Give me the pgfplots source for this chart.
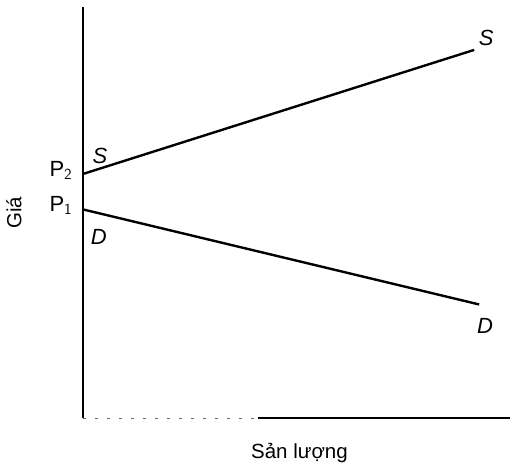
\documentclass[border=0pt]{standalone}
\usepackage{pgfplots}
\pgfplotsset{compat=1.18}
\usepackage{fontspec}
\setmainfont{Liberation Sans}
\begin{document}
\begin{tikzpicture}
\begin{axis}[
  scale only axis, width=511pt, height=466pt,
  xmin=0, xmax=511, ymin=0, ymax=466,
  hide axis, clip=false,
]
% frame that fixes the picture size
\addplot[draw=none, forget plot] coordinates {(0,0) (511,466)};
% axes
\addplot[black, line width=1.8pt] coordinates {(83,459) (83,47)};
\addplot[black, line width=1.8pt] coordinates {(258,47) (511,47)};
\addplot[black!60, line width=1.2pt, dash pattern=on 3pt off 9pt] coordinates {(83,47) (258,47)};
% supply and demand
\addplot[black, line width=2.4pt] coordinates {(84,292) (475,416)};
\addplot[black, line width=2.4pt] coordinates {(84,256) (480,161)};
% labels
\node[font=\fontsize{22}{24}\selectfont\itshape] at (axis cs:487,428) {S};
\node[font=\fontsize{22}{24}\selectfont\itshape] at (axis cs:100,310) {S};
\node[font=\fontsize{22}{24}\selectfont\itshape] at (axis cs:99,229) {D};
\node[font=\fontsize{22}{24}\selectfont\itshape] at (axis cs:486,139) {D};
\node[font=\fontsize{22}{24}\selectfont] at (axis cs:61,295) {P$_{\mathsf{2}}$};
\node[font=\fontsize{22}{24}\selectfont] at (axis cs:61,260) {P$_{\mathsf{1}}$};
\node[font=\fontsize{20.5}{23}\selectfont, rotate=90] at (axis cs:14,253) {Giá};
\node[font=\fontsize{20.5}{23}\selectfont] at (axis cs:300,12) {Sản lượng};
\end{axis}
\end{tikzpicture}
\end{document}
